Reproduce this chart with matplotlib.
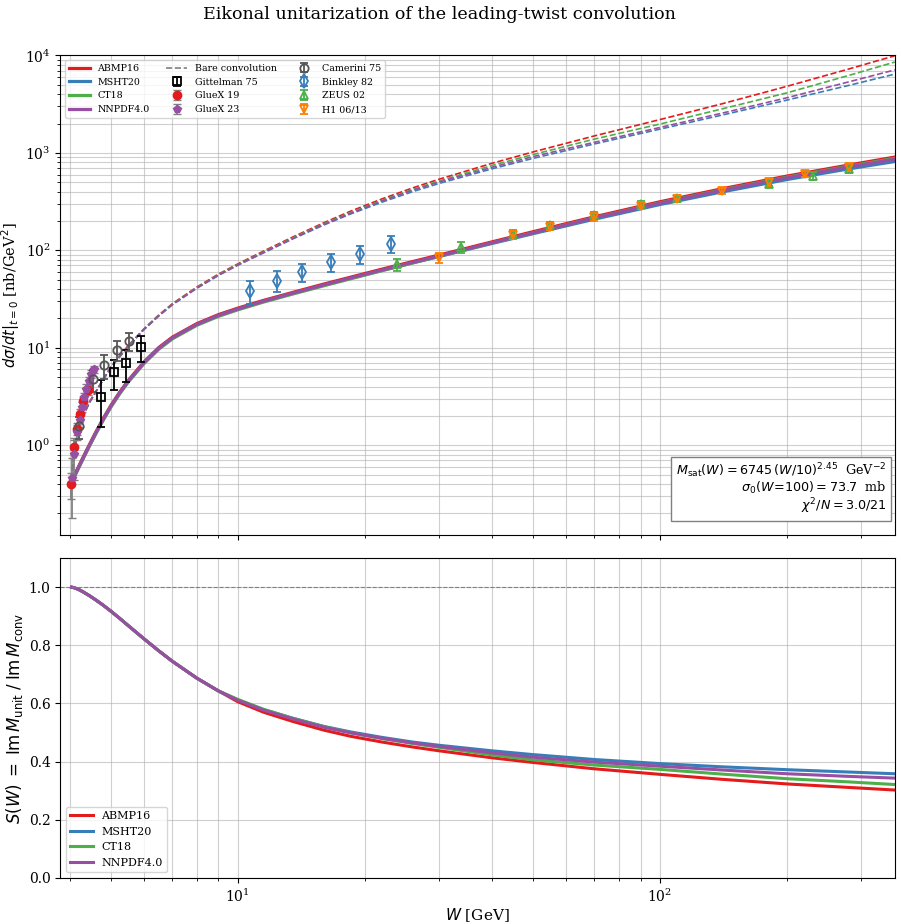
import matplotlib
matplotlib.use("Agg")
import matplotlib.pyplot as plt

plt.rcParams['font.family'] = 'serif'
plt.rcParams['font.serif'] = ['DejaVu Serif']

# common W grid of the model curves [GeV]
W = [4.04, 4.1, 4.2, 4.3, 4.45, 4.6, 4.8, 5.0, 5.25, 5.5, 6.0, 6.5, 7.0, 8.0, 9.0, 10,
     11.5, 13.5, 16, 18.5, 22, 26, 30, 40, 50, 70, 100, 140, 200, 280, 360]

pdf_names = ['ABMP16', 'MSHT20', 'CT18', 'NNPDF4.0']
pdf_colors = ['#e41a1c', '#377eb8', '#4daf4a', '#984ea3']

# unitarized dsigma/dt at t=0 [nb/GeV^2]
unit_abmp = [0.43, 0.49, 0.608, 0.75, 1.01, 1.34, 1.88, 2.54, 3.5, 4.61, 7.18, 10.06, 12.85, 17.7, 21.9, 25.5,
             30.6, 37.0, 45.1, 53.0, 64.2, 76.8, 89.4, 122, 155, 221, 315, 427, 578, 750, 905]
unit_msht = [0.42, 0.48, 0.596, 0.735, 0.99, 1.31, 1.84, 2.49, 3.43, 4.52, 7.04, 9.86, 12.6, 17.35, 21.45, 25.0,
             30.0, 36.2, 44.0, 51.7, 62.4, 74.5, 86.5, 117.5, 148, 209, 295, 397, 533, 685, 815]
unit_ct = [0.41, 0.47, 0.584, 0.72, 0.97, 1.28, 1.80, 2.44, 3.36, 4.43, 6.9, 9.66, 12.35, 17.0, 21.0, 24.5,
           29.4, 35.6, 43.3, 51.0, 61.9, 74.3, 86.8, 119, 151, 216, 307, 416, 563, 730, 878]
unit_nnpdf = [0.42, 0.48, 0.596, 0.735, 0.99, 1.31, 1.84, 2.49, 3.43, 4.52, 7.04, 9.86, 12.6, 17.35, 21.45, 25.0,
              30.0, 36.3, 44.2, 52.0, 62.9, 75.3, 87.6, 119.5, 151, 215, 305, 412, 556, 719, 861]

# bare leading-twist convolution
bare_abmp = [0.45, 0.9, 1.45, 2.0, 2.75, 3.5, 4.75, 6.3, 8.2, 10.5, 15.7, 21.7, 28.3, 42, 57, 72.5,
             98, 137, 192, 252, 338, 438, 537, 781, 1021, 1494, 2196, 3180, 4820, 7250, 9920]
bare_msht = [0.45, 0.9, 1.44, 1.98, 2.72, 3.46, 4.7, 6.22, 8.08, 10.3, 15.4, 21.2, 27.6, 40.8, 55.2, 70.3,
             94, 131, 182, 236, 313, 401, 486, 686, 877, 1236, 1753, 2437, 3482, 4924, 6426]
bare_ct = [0.45, 0.9, 1.45, 1.99, 2.74, 3.48, 4.73, 6.26, 8.14, 10.4, 15.6, 21.5, 28.0, 41.5, 56.3, 71.4,
           96, 134.5, 188, 244, 327, 422, 515, 742, 960, 1385, 1976, 2820, 4130, 6230, 8550]
bare_nnpdf = [0.45, 0.9, 1.44, 1.99, 2.73, 3.47, 4.71, 6.24, 8.11, 10.35, 15.5, 21.3, 27.8, 41.1, 55.7, 70.7,
              95, 132.5, 185, 240, 322, 415, 503, 711, 915, 1285, 1823, 2550, 3680, 5350, 7100]

# S(W) = Im M_unit / Im M_conv
S_abmp = [1.0, 0.998, 0.992, 0.984, 0.971, 0.957, 0.938, 0.918, 0.893, 0.868, 0.822, 0.781, 0.745, 0.687, 0.643,
          0.606, 0.570, 0.538, 0.508, 0.487, 0.467, 0.450, 0.437, 0.413, 0.397, 0.375, 0.356, 0.339, 0.323, 0.311, 0.302]
S_msht = [1.0, 0.998, 0.992, 0.984, 0.971, 0.957, 0.938, 0.918, 0.893, 0.868, 0.822, 0.781, 0.745, 0.687, 0.643,
          0.612, 0.579, 0.549, 0.521, 0.502, 0.483, 0.467, 0.456, 0.437, 0.424, 0.407, 0.393, 0.382, 0.372, 0.364, 0.358]
S_ct = [1.0, 0.998, 0.992, 0.984, 0.971, 0.957, 0.938, 0.918, 0.893, 0.868, 0.822, 0.781, 0.745, 0.687, 0.643,
        0.614, 0.580, 0.549, 0.520, 0.499, 0.479, 0.462, 0.449, 0.423, 0.406, 0.388, 0.373, 0.357, 0.341, 0.330, 0.321]
S_nnpdf = [1.0, 0.998, 0.992, 0.984, 0.971, 0.957, 0.938, 0.918, 0.893, 0.868, 0.822, 0.781, 0.745, 0.687, 0.643,
           0.611, 0.577, 0.547, 0.518, 0.499, 0.480, 0.464, 0.452, 0.430, 0.415, 0.398, 0.384, 0.371, 0.358, 0.349, 0.343]

# data
gitt_W = [4.74, 5.10, 5.45, 5.91]
gitt_s = [3.1, 5.6, 7.0, 10.2]
gitt_e = [1.55, 1.9, 2.5, 3.1]

gx19_W = [4.02, 4.09, 4.16, 4.24, 4.31, 4.42]
gx19_s = [0.40, 0.97, 1.48, 2.1, 2.85, 3.7]
gx19_e = [0.12, 0.15, 0.2, 0.25, 0.3, 0.4]

gx23_W = [4.06, 4.10, 4.17, 4.23, 4.28, 4.33, 4.38, 4.45, 4.50, 4.56]
gx23_s = [0.46, 0.81, 1.37, 1.8, 2.47, 3.1, 3.8, 4.6, 5.4, 6.0]
gx23_e = [0.28, 0.37, 0.25, 0.25, 0.3, 0.35, 0.4, 0.45, 0.5, 0.55]

cam_W = [4.21, 4.54, 4.81, 5.17, 5.52]
cam_s = [1.57, 4.75, 6.6, 9.5, 11.7]
cam_e = [0.4, 1.2, 1.8, 2.2, 2.5]

bink_W = [10.7, 12.4, 14.2, 16.6, 19.5, 23.1]
bink_s = [38, 49, 60, 76, 92, 117]
bink_e = [10, 12, 13, 16, 19, 24]

zeus_W = [23.9, 33.8, 45, 55, 70, 90, 110, 181, 231, 281]
zeus_s = [72, 108, 146, 180, 228, 296, 345, 483, 580, 680]
zeus_e = [10, 13, 15, 17, 20, 25, 28, 40, 50, 55]

h1_W = [29.9, 45, 55, 70, 90, 110, 140, 181, 221, 280]
h1_s = [84, 144, 175, 220, 288, 338, 410, 500, 605, 712]
h1_e = [9, 13, 15, 18, 22, 25, 30, 38, 45, 55]

unit = [unit_abmp, unit_msht, unit_ct, unit_nnpdf]
bare = [bare_abmp, bare_msht, bare_ct, bare_nnpdf]
ratio = [S_abmp, S_msht, S_ct, S_nnpdf]

fig, (ax1, ax2) = plt.subplots(2, 1, figsize=(9.01, 9.24), sharex=True,
                               gridspec_kw={'height_ratios': [3, 2]})
fig.subplots_adjust(left=0.067, right=0.993, top=0.94, bottom=0.05, hspace=0.058)

for name, col, u in zip(pdf_names, pdf_colors, unit):
    ax1.plot(W, u, color=col, lw=2.3, label=name)
for col, b in zip(pdf_colors, bare):
    ax1.plot(W, b, color=col, lw=1.2, ls='--')
ax1.plot([], [], color='gray', lw=1.2, ls='--', label='Bare convolution')

eb = dict(capsize=3, elinewidth=1.3, markersize=6, ls='none', zorder=5)
ax1.errorbar(gitt_W, gitt_s, yerr=gitt_e, fmt='s', color='black', mfc='none', mew=1.3,
             label='Gittelman 75', **eb)
ax1.errorbar(gx19_W, gx19_s, yerr=gx19_e, fmt='o', color='#e41a1c', ecolor='gray',
             label='GlueX 19', **eb)
ax1.errorbar(gx23_W, gx23_s, yerr=gx23_e, fmt='p', color='#984ea3', ecolor='gray',
             label='GlueX 23', **eb)
ax1.errorbar(cam_W, cam_s, yerr=cam_e, fmt='o', color='#555555', mfc='none', mew=1.3,
             label='Camerini 75', **eb)
ax1.errorbar(bink_W, bink_s, yerr=bink_e, fmt='d', color='#377eb8', mfc='none', mew=1.3,
             label='Binkley 82', **dict(eb, markersize=7))
ax1.errorbar(zeus_W, zeus_s, yerr=zeus_e, fmt='^', color='#4daf4a', mfc='none', mew=1.3,
             label='ZEUS 02', **eb)
ax1.errorbar(h1_W, h1_s, yerr=h1_e, fmt='v', color='#ff7f00', mfc='none', mew=1.3,
             label='H1 06/13', **eb)

ax1.set_xscale('log')
ax1.set_yscale('log')
ax1.set_xlim(3.8, 360)
ax1.set_ylim(0.12, 1e4)
ax1.set_ylabel(r'$d\sigma/dt|_{t=0}$ [nb/GeV$^2$]', fontsize=10.5, labelpad=2)
ax1.grid(True, which='both', color='#b0b0b0', alpha=0.6)
ax1.legend(ncol=3, fontsize=6.8, loc='upper left', handlelength=2.2, columnspacing=1.8)
ax1.text(0.99, 0.04,
         r'$M_{\rm sat}(W) = 6745\,(W/10)^{2.45}$  GeV$^{-2}$' + '\n'
         + r'$\sigma_0(W\!=\!100) = 73.7$  mb' + '\n' + r'$\chi^2/N = 3.0/21$',
         transform=ax1.transAxes, ha='right', va='bottom', multialignment='right', fontsize=9.2,
         linespacing=1.0, bbox=dict(boxstyle='square,pad=0.4', fc='white', ec='gray'))

for name, col, s in zip(pdf_names, pdf_colors, ratio):
    ax2.plot(W, s, color=col, lw=2.2, label=name)
ax2.axhline(1.0, color='gray', lw=0.8, ls='--')
ax2.set_ylim(0, 1.1)
ax2.set_xlabel(r'$W$ [GeV]', fontsize=11, labelpad=1)
ax2.set_ylabel(r'$S(W) \;=\; \mathrm{Im}\,M_{\rm unit}\;/\;\mathrm{Im}\,M_{\rm conv}$', fontsize=12, labelpad=3)
ax2.grid(True, which='both', color='#b0b0b0', alpha=0.6)
ax2.legend(fontsize=8, loc='lower left')

fig.suptitle('Eikonal unitarization of the leading-twist convolution', fontsize=12.6, x=0.488, y=0.993)
fig.savefig('out.png', dpi=100)
